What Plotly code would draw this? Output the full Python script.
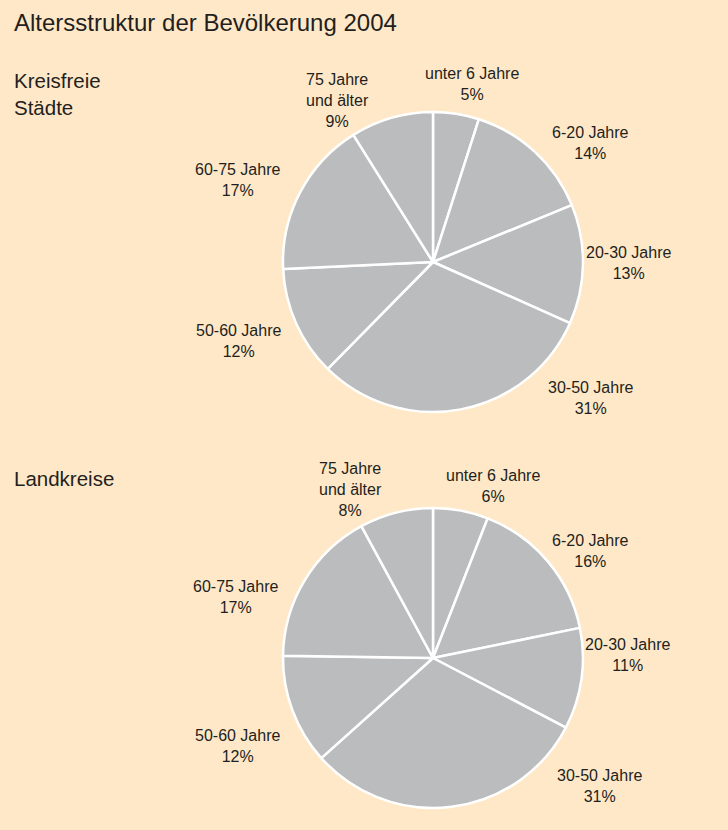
import math
import plotly.graph_objects as go

categories = ["unter 6 Jahre", "6-20 Jahre", "20-30 Jahre", "30-50 Jahre",
              "50-60 Jahre", "60-75 Jahre", "75 Jahre<br>und älter"]
staedte_values = [5, 14, 13, 31, 12, 17, 9]
landkreise_values = [6, 16, 11, 31, 12, 17, 8]

title_text = "Altersstruktur der Bevölkerung 2004"
group_names = ["Kreisfreie<br>Städte", "Landkreise"]

W, H = 728, 830
BG = "#FFE8C7"
SLICE = "#BBBCBE"
TXT = "#231F20"
FONT = "Liberation Sans, Arial, sans-serif"

# pie geometry (pixels): centre and radius
R = 150
CX = 433
CYS = [262, 658]

# label layout nudges (pixels, relative to the slice's rim midpoint)
nudges = [
    [(16, -30), (56, -9), (46, -1), (130, -11), (-58, 18), (-63, -12), (-54, -17)],
    [(32, -25), (43, -10), (46, -24), (148, -21), (-55, 35), (-69, 17), (-46, -23)],
]

fig = go.Figure()
for k, vals in enumerate([staedte_values, landkreise_values]):
    cy = CYS[k]
    fig.add_trace(go.Pie(
        labels=categories,
        values=vals,
        textinfo="none",
        sort=False,
        direction="clockwise",
        rotation=0,
        marker=dict(colors=[SLICE] * len(vals), line=dict(color="white", width=2.5)),
        domain=dict(x=[(CX - R) / W, (CX + R) / W], y=[(H - cy - R) / H, (H - cy + R) / H]),
        showlegend=False,
        hoverinfo="label+percent",
    ))
    total = sum(vals)
    cum = 0
    for i, (lab, v) in enumerate(zip(categories, vals)):
        mid = (cum + v / 2) / total * 2 * math.pi
        cum += v
        px = CX + R * math.sin(mid)
        py = cy - R * math.cos(mid)
        dx, dy = nudges[k][i]
        fig.add_annotation(
            text=f"{lab}<br>{v}%", x=px / W, y=1 - py / H, xref="paper", yref="paper",
            xshift=dx, yshift=-dy, xanchor="center", yanchor="middle",
            showarrow=False, align="center",
            font=dict(family=FONT, size=16, color=TXT))

fig.add_annotation(text=title_text, x=12 / W, y=1 - 22 / H, xref="paper", yref="paper",
                   xanchor="left", yanchor="middle", showarrow=False,
                   font=dict(family=FONT, size=24, color=TXT))
fig.add_annotation(text=group_names[0], x=12 / W, y=1 - 94 / H, xref="paper", yref="paper",
                   xanchor="left", yanchor="middle", showarrow=False, align="left",
                   font=dict(family=FONT, size=20.5, color=TXT))
fig.add_annotation(text=group_names[1], x=12 / W, y=1 - 478 / H, xref="paper", yref="paper",
                   xanchor="left", yanchor="middle", showarrow=False, align="left",
                   font=dict(family=FONT, size=20.5, color=TXT))

fig.update_layout(width=W, height=H, margin=dict(l=0, r=0, t=0, b=0),
                  paper_bgcolor=BG, plot_bgcolor=BG,
                  font=dict(family=FONT, color=TXT))

fig.write_html("out.html", config={"displayModeBar": False},
               post_script="document.body.style.margin='0';document.body.style.background='" + BG + "';")
